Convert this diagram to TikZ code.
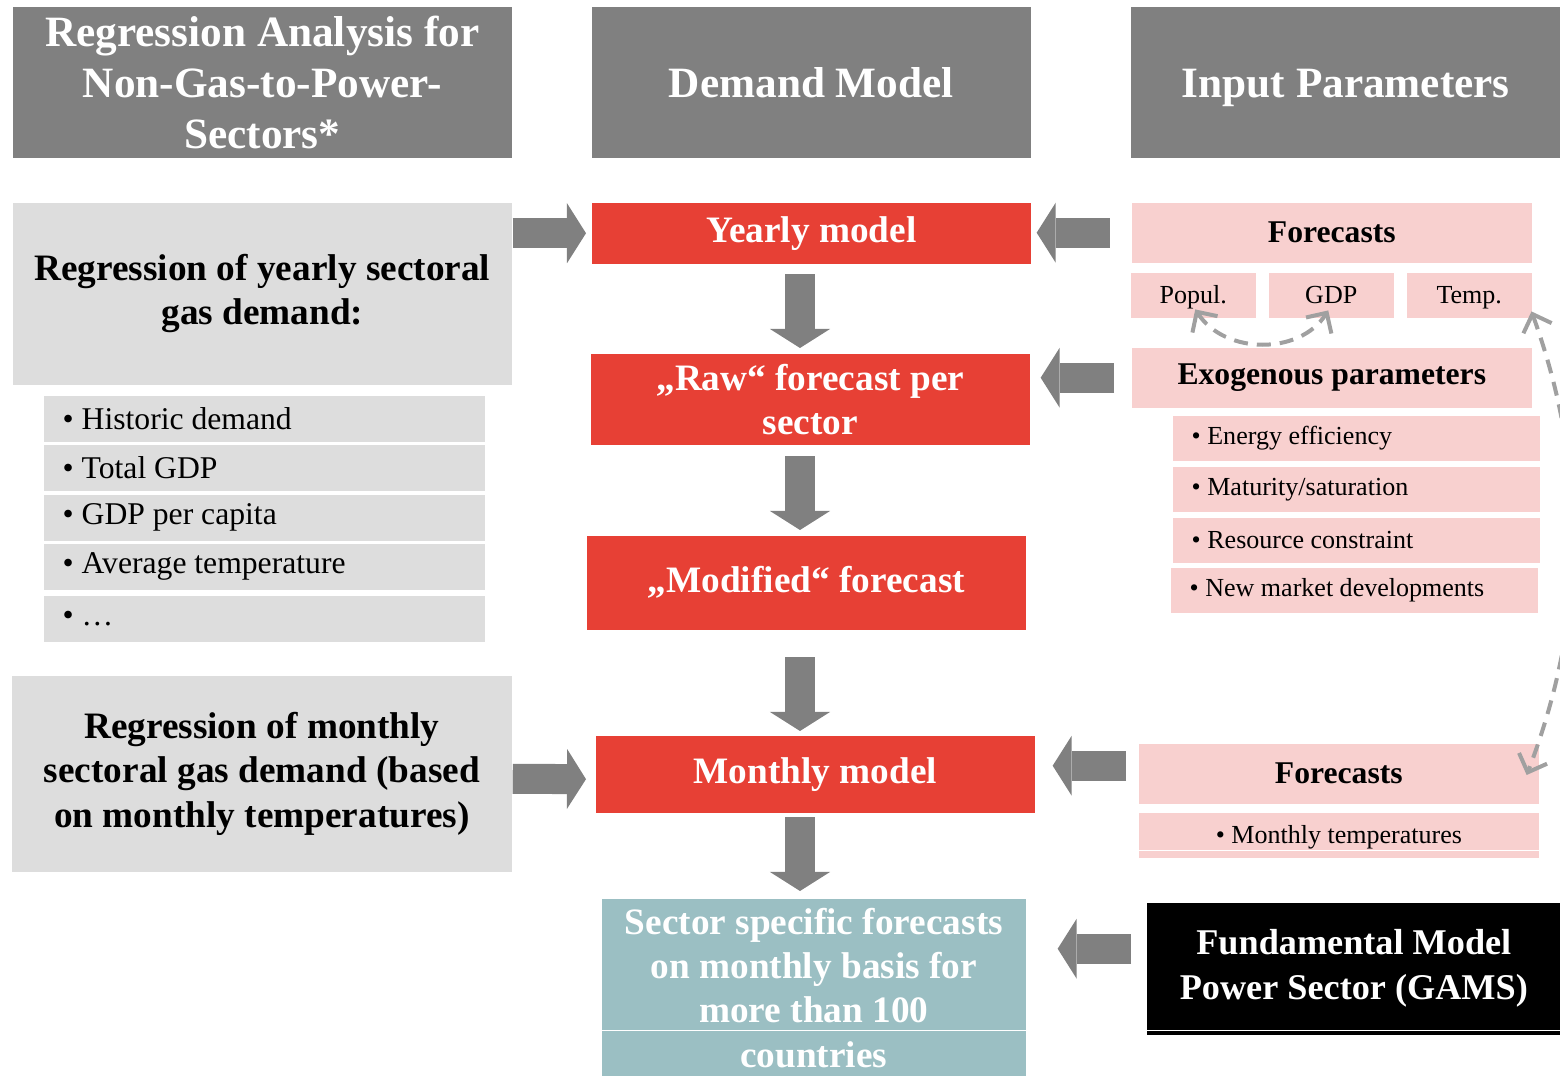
\documentclass[tikz,border=0pt]{standalone}
\usepackage{fontspec}
\setmainfont{Liberation Serif}
\usetikzlibrary{arrows.meta,calc}

\definecolor{hdrgray}{RGB}{128,128,128}
\definecolor{boxgray}{RGB}{221,221,221}
\definecolor{modelred}{RGB}{231,64,53}
\definecolor{inpink}{RGB}{248,208,207}
\definecolor{resteal}{RGB}{155,191,195}
\definecolor{dashgray}{RGB}{160,160,160}

\begin{document}
\begin{tikzpicture}[x=0.01cm, y=-0.01cm,
  every node/.style={anchor=north west, inner sep=0pt, align=center},
  hdr/.style={fill=hdrgray, text=white, font=\fontsize{12.3}{14.5}\selectfont\bfseries},
  oneline/.style={text height=0.40cm, text depth=0.09cm},
  regbox/.style={fill=boxgray, font=\fontsize{10.6}{12.6}\selectfont\bfseries},
  itemL/.style={fill=boxgray, align=flush left, inner xsep=0.19cm, text width=4.03cm,
    minimum height=0.46cm, font=\fontsize{9}{11}\selectfont},
  model/.style={fill=modelred, text=white, font=\fontsize{10.6}{12.6}\selectfont\bfseries},
  inhead/.style={fill=inpink, minimum width=4cm, minimum height=0.6cm,
    font=\fontsize{9}{11}\selectfont\bfseries},
  insmall/.style={fill=inpink, minimum width=1.25cm, minimum height=0.45cm,
    text height=0.22cm, text depth=0.05cm, font=\fontsize{7.4}{9}\selectfont},
  itemR/.style={fill=inpink, align=flush left, inner xsep=0.19cm, text width=3.29cm,
    minimum height=0.45cm, font=\fontsize{7.4}{9}\selectfont},
  blockarrow/.style={draw=hdrgray, line width=0.3cm,
    -{Triangle[width=0.6cm, length=0.19cm, line width=0pt]}},
  dasharrow/.style={draw=dashgray, line width=0.4mm, dash pattern=on 1.4mm off 0.9mm,
    {Straight Barb[length=1.5mm, width=3mm]}-{Straight Barb[length=1.5mm, width=3mm]}}]
\useasboundingbox (0,0) rectangle (1560,1076);

% headers
\node[hdr, minimum width=4.99cm, minimum height=1.51cm] (hreg) at (12,6)
  {Regression Analysis for\\Non-Gas-to-Power-\\Sectors*};
\node[hdr, oneline, minimum width=4.39cm, minimum height=1.51cm] (hdem) at (591,6) {Demand Model};
\node[hdr, oneline, minimum width=4.30cm, minimum height=1.51cm] (hinp) at (1130,6) {Input Parameters};

% regression side
\node[regbox, minimum width=4.99cm, minimum height=1.82cm] (regy) at (12,202)
  {Regression of yearly sectoral\\gas demand:};
\node[itemL] (hist) at (43,395) {• Historic demand};
\node[itemL] (tgdp) at (43,444) {• Total GDP};
\node[itemL] (cgdp) at (43,494) {• GDP per capita};
\node[itemL] (atemp) at (43,543) {• Average temperature};
\node[itemL] (more) at (43,595) {• …};
\node[regbox, minimum width=5.00cm, minimum height=1.96cm] (regm) at (11,675)
  {Regression of monthly\\sectoral gas demand (based\\on monthly temperatures)};

% demand model
\node[model, minimum width=4.39cm, minimum height=0.61cm] (yearly) at (591,202) {Yearly model};
\node[model, minimum width=4.39cm, minimum height=0.91cm] (raw) at (590,353)
  {„Raw“ forecast per\\sector};
\node[model, minimum width=4.39cm, minimum height=0.94cm] (modif) at (586,535)
  {„Modified“ forecast};
\node[model, minimum width=4.39cm, minimum height=0.77cm] (monthly) at (595,735) {Monthly model};
\node[model, fill=resteal, minimum width=4.24cm, minimum height=1.78cm] (result) at (601,898)
  {Sector specific forecasts\\on monthly basis for\\more than 100\\countries};
\draw[white, line width=0.015cm] ($(result.south west)+(0,-47)$) -- ($(result.south east)+(0,-47)$);

% input parameters
\node[inhead] (fcast) at (1131,202) {Forecasts};
\node[insmall] (pop) at (1130,272) {Popul.};
\node[insmall] (gdp) at (1268,272) {GDP};
\node[insmall] (temp) at (1406,272) {Temp.};
\node[inhead] (exo) at (1131,347) {Exogenous parameters};
\node[itemR] (eff) at (1172,415) {• Energy efficiency};
\node[itemR] (sat) at (1172,466) {• Maturity/saturation};
\node[itemR] (res) at (1172,517) {• Resource constraint};
\node[itemR] (mkt) at (1170,567) {• New market developments};
\node[inhead] (fcastm) at (1138,743) {Forecasts};
\node[insmall, minimum width=4cm] (mtemp) at (1138,812) {• Monthly temperatures};
\draw[white, line width=0.01cm] ($(mtemp.south west)+(0,-8)$) -- ($(mtemp.south east)+(0,-8)$);
\node[fill=black, text=white, minimum width=4.14cm, minimum height=1.32cm,
  font=\fontsize{10.3}{12.8}\selectfont\bfseries] (gams) at (1146,902)
  {Fundamental Model\\Power Sector (GAMS)};
\draw[white, line width=0.015cm] ($(gams.south west)+(0,-5)$) -- ($(gams.south east)+(0,-5)$);

% block arrows
\coordinate (axis) at (800,0);
\draw[blockarrow, shorten >=0.05cm] (regy.east |- yearly.west) -- (yearly.west);
\draw[blockarrow, shorten >=0.09cm] ([yshift=-0.05cm]regm.east) -- ([yshift=-0.05cm]monthly.west);
\draw[blockarrow, shorten <=0.10cm, shorten >=0.05cm] (yearly.south -| axis) -- (raw.north -| axis);
\draw[blockarrow, shorten <=0.11cm, shorten >=0.05cm] (raw.south -| axis) -- (modif.north -| axis);
\draw[blockarrow, shorten <=0.27cm, shorten >=0.04cm] (modif.south -| axis) -- (monthly.north -| axis);
\draw[blockarrow, shorten <=0.04cm, shorten >=0.07cm] (monthly.south -| axis) -- (result.north -| axis);
\draw[blockarrow, shorten <=0.21cm, shorten >=0.05cm] (fcast.west) -- (fcast.west -| yearly.east);
\draw[blockarrow, shorten <=0.17cm, shorten >=0.10cm] (exo.west) -- (exo.west -| raw.east);
\draw[blockarrow, shorten <=0.12cm, shorten >=0.17cm] ([yshift=0.08cm]fcastm.west) -- ([yshift=0.08cm]fcastm.west -| monthly.east);
\draw[blockarrow, shorten <=0.15cm, shorten >=0.31cm] ([yshift=0.2cm]gams.west) -- ([yshift=0.2cm]gams.west -| result.east);

% dashed links
\draw[dasharrow] ($(pop.south)+(2,-9)$) .. controls (1225,355) and (1300,355) .. ($(gdp.south)+(-3,-8)$);
\begin{scope}
\clip (0,0) rectangle (1560,1076);
\draw[dasharrow] ($(temp.south east)+(-1,-7)$) .. controls (1585,460) and (1590,610) .. ($(fcastm.north east)+(-13,32)$);
\end{scope}
\end{tikzpicture}
\end{document}
